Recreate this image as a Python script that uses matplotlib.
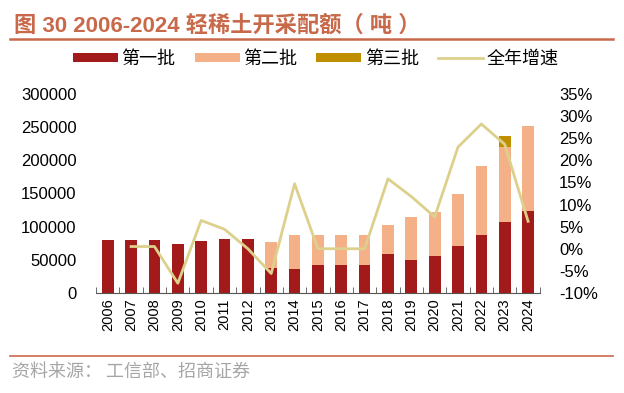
import matplotlib.pyplot as plt
import numpy as np
from matplotlib.ticker import FuncFormatter, FixedLocator

plt.rcParams['font.family'] = ['Liberation Sans', 'Noto Sans CJK SC']

years = [str(y) for y in range(2006, 2025)]
batch1 = [79500, 79500, 79500, 73500, 78500, 82000, 82000, 37000, 35500, 42000,
          42000, 42000, 59500, 49500, 55500, 71000, 88000, 107000, 123000]
batch2 = [0, 0, 0, 0, 0, 0, 0, 40000, 52500, 46000,
          46000, 46000, 42500, 65000, 66500, 78500, 104000, 112500, 129000]
batch3 = [0] * 17 + [16500, 0]
growth_years = years[1:]
growth = [0.5, 0.5, -7.8, 6.4, 4.4, 0.0, -5.6, 14.7, 0.0, 0.0,
          0.0, 15.8, 11.8, 7.2, 23.0, 28.2, 23.6, 6.2]

c1 = '#A31A1A'
c2 = '#F4B086'
c3 = '#BF8F00'
cline = '#DDD08C'
ctitle = '#C8694A'

fig = plt.figure(figsize=(6.24, 3.93), dpi=100)
ax = fig.add_axes([0.154, 0.2545, 0.711, 0.5065])

x = np.arange(len(years))
b1 = np.array(batch1)
b2 = np.array(batch2)
b3 = np.array(batch3)
ax.bar(x, b1, width=0.5, color=c1, label='第一批', zorder=2)
ax.bar(x, b2, width=0.5, bottom=b1, color=c2, label='第二批', zorder=2)
ax.bar(x, b3, width=0.5, bottom=b1 + b2, color=c3, label='第三批', zorder=2)

ax.set_xlim(-0.5, len(years) - 0.5)
ax.set_ylim(0, 300000)
ax.set_yticks(np.arange(0, 300001, 50000))
ax.set_xticks(x)
ax.set_xticklabels(years, rotation=90, fontsize=10.5)
ax.xaxis.set_minor_locator(FixedLocator(np.arange(-0.5, len(years), 1)))
ax.tick_params(axis='x', which='major', length=0, pad=4)
ax.tick_params(axis='x', which='minor', length=4, direction='in', color='#555555')
ax.tick_params(axis='y', length=0, labelsize=12, pad=14)
for s in ['top', 'left', 'right']:
    ax.spines[s].set_visible(False)
ax.spines['bottom'].set_color('#555555')

ax2 = ax.twinx()
ax2.plot(x[1:], growth, color=cline, lw=2, label='全年增速', zorder=3)
ax2.set_ylim(-10, 35)
ax2.set_yticks(np.arange(-10, 36, 5))
ax2.yaxis.set_major_formatter(FuncFormatter(lambda v, p: f'{int(v)}%'))
ax2.tick_params(axis='y', length=0, labelsize=12, pad=14)
for s in ['top', 'left', 'right', 'bottom']:
    ax2.spines[s].set_visible(False)

h1, l1 = ax.get_legend_handles_labels()
h2, l2 = ax2.get_legend_handles_labels()
fig.legend(h1 + h2, l1 + l2, loc='center', bbox_to_anchor=(0.506, 0.85), ncol=4,
           frameon=False, handlelength=2.5, handleheight=0.45,
           columnspacing=1.05, handletextpad=0.2, borderpad=0,
           prop={'family': ['Noto Sans CJK SC'], 'size': 13})

fig.text(0.022, 0.935, '图 30 2006-2024 轻稀土开采配额（ 吨 ）', color=ctitle,
         fontsize=16, fontweight='bold', va='center', ha='left',
         family=['Liberation Sans', 'Noto Sans CJK SC'])
fig.add_artist(plt.Line2D([0.016, 0.982], [0.901, 0.901], color=ctitle, lw=1.8,
                          transform=fig.transFigure))
fig.add_artist(plt.Line2D([0.016, 0.982], [0.094, 0.094], color=ctitle, lw=1.2,
                          transform=fig.transFigure))
fig.text(0.02, 0.054, '资料来源： 工信部、招商证券', color='#A6A6A6', fontsize=13,
         va='center', ha='left', family=['Noto Sans CJK SC'])

fig.savefig('out.png', dpi=100)
